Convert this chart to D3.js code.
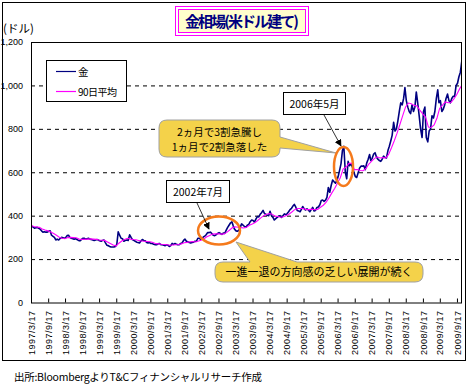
<!doctype html>
<html lang="ja">
<head>
<meta charset="utf-8">
<title>金相場(米ドル建て)</title>
<script src="https://d3js.org/d3.v7.min.js"></script>
<style>
    body { margin: 0; background: #fff; }
    svg text { font-family: "Noto Sans CJK JP", sans-serif; }
    .num { font-family: "Liberation Sans", Arial, sans-serif; font-size: 9px; }
</style>
</head>
<body>
<div id="chart"></div>
<script>

//---- data ----
//gold price (USD/oz), two readings per month from 1997/3 (early, late)
var goldStart = [1997, 2];
var goldPrices = [
    356, 352, 348, 342, 344, 346, 342, 338, 330, 324, 326, 324, 324, 328, 330, 310, 305, 300, 288, 292,
    288, 295, 300, 298, 296, 298, 308, 310, 300, 296, 294, 292, 294, 290, 286, 284, 290, 296, 296, 292, 294, 296, 292, 290,
    288, 286, 288, 290, 288, 284, 282, 286, 288, 276, 264, 262, 258, 256, 256, 256, 258, 268, 326, 310, 296, 294, 282, 286,
    288, 286, 312, 300, 290, 286, 282, 278, 276, 274, 284, 290, 286, 284, 276, 274, 276, 272, 272, 268, 266, 266, 270, 272,
    266, 266, 264, 262, 266, 264, 258, 262, 272, 268, 272, 268, 266, 266, 272, 274, 286, 292, 282, 280, 276, 274, 276, 278,
    282, 282, 296, 296, 292, 294, 302, 306, 312, 322, 322, 324, 318, 310, 308, 312, 318, 322, 318, 314, 320, 318, 332, 345,
    356, 366, 372, 352, 338, 330, 328, 332, 346, 362, 356, 350, 346, 356, 360, 372, 380, 378, 370, 384, 396, 394, 406, 414,
    424, 410, 406, 402, 400, 420, 400, 392, 380, 386, 392, 398, 400, 392, 400, 408, 404, 410, 418, 428, 434, 444, 452, 440,
    424, 422, 418, 430, 442, 432, 426, 432, 426, 418, 428, 438, 422, 424, 438, 440, 450, 470, 472, 466, 472, 484, 530, 508,
    540, 564, 556, 550, 560, 580, 610, 640, 700, 720, 600, 570, 650, 630, 638, 624, 600, 580, 576, 596, 620, 628, 628, 630,
    612, 642, 660, 682, 654, 664, 684, 690, 670, 660, 654, 650, 660, 674, 668, 666, 700, 720, 744, 770, 830, 790, 800, 836,
    880, 920, 910, 940, 990, 930, 900, 880, 870, 910, 880, 900, 970, 920, 860, 800, 760, 880, 900, 760, 740, 790, 800, 860,
    850, 880, 940, 980, 920, 930, 880, 890, 910, 940, 960, 930, 920, 940, 950, 950, 1000, 1010, 1040, 1060, 1112
];

//90 day average, one reading per month from 1997/3
var maPrices = [
    356, 350, 348, 346, 339, 334, 330, 325, 318, 310,
    301, 296, 294, 299, 300, 299, 298, 292, 291, 291, 292, 293,
    292, 291, 288, 287, 286, 279, 272, 265, 260, 273, 283, 290,
    296, 292, 290, 289, 286, 283, 282, 281, 280, 276, 271, 270,
    268, 267, 266, 264, 265, 266, 267, 270, 275, 277, 280, 281,
    279, 283, 287, 294, 303, 309, 315, 316, 317, 315, 316, 323,
    334, 345, 349, 347, 345, 343, 347, 356, 362, 368, 379, 390,
    400, 407, 410, 407, 398, 396, 393, 395, 401, 408, 418, 429,
    433, 433, 433, 428, 428, 430, 427, 429, 439, 448, 462, 482,
    505, 526, 549, 575, 615, 623, 640, 642, 612, 612, 608, 607,
    617, 638, 650, 663, 671, 666, 668, 665, 682, 712, 745, 780,
    821, 863, 901, 919, 916, 908, 905, 886, 869, 854, 808, 806,
    818, 850, 894, 909, 924, 920, 921, 938, 958, 984, 1005
];

var tickLabels = [
    "1997/3/17", "1997/9/17", "1998/3/17", "1998/9/17", "1999/3/17", "1999/9/17",
    "2000/3/17", "2000/9/17", "2001/3/17", "2001/9/17", "2002/3/17", "2002/9/17",
    "2003/3/17", "2003/9/17", "2004/3/17", "2004/9/17", "2005/3/17", "2005/9/17",
    "2006/3/17", "2006/9/17", "2007/3/17", "2007/9/17", "2008/3/17", "2008/9/17",
    "2009/3/17", "2009/9/17"
];
var yTicks = [0, 200, 400, 600, 800, 1000, 1200];
var gridValues = [200, 400, 600, 800, 1000];

//---- layout ----
var width = 471;
var height = 385;
var plot = {left: 31, top: 42, right: 462, bottom: 302.5};

var svg = d3.select("#chart").append("svg")
    .attr("width", width)
    .attr("height", height);

//outer frame
svg.append("rect")
    .attr("x", 2.5).attr("y", 2.5)
    .attr("width", 463).attr("height", 358)
    .attr("fill", "#fff")
    .attr("stroke", "#000");

var parseDate = d3.timeParse("%Y/%m/%d");

var x = d3.scaleTime()
    .domain([new Date(1997, 2, 17), new Date(2009, 10, 10)])
    .range([plot.left, plot.right]);

var y = d3.scaleLinear()
    .domain([0, 1200])
    .range([plot.bottom, plot.top]);

//dashed gridlines
svg.append("g")
    .attr("transform", "translate(" + plot.left + ",0)")
    .call(d3.axisLeft(y).tickValues(gridValues).tickSize(-(plot.right - plot.left)).tickFormat(""))
    .call(function(g) { g.select(".domain").remove(); })
    .selectAll("line")
    .attr("stroke", "#000")
    .attr("stroke-dasharray", "4,4");

//y labels
svg.append("g")
    .attr("transform", "translate(" + plot.left + ",0)")
    .call(d3.axisLeft(y).tickValues(yTicks).tickSize(0).tickPadding(8))
    .call(function(g) { g.select(".domain").remove(); })
    .selectAll("text")
    .attr("class", "num")
    .attr("font-size", null)
    .attr("font-family", null)
    .attr("fill", "#000");

svg.append("text")
    .attr("x", 3).attr("y", 33)
    .attr("font-size", "11.5px")
    .text("(ドル)");

//clip lines to plot area
svg.append("clipPath").attr("id", "plotClip")
    .append("rect")
    .attr("x", plot.left).attr("y", plot.top)
    .attr("width", plot.right - plot.left).attr("height", plot.bottom - plot.top);

function goldDate(i) {
    return new Date(goldStart[0], goldStart[1] + Math.floor(i / 2), i % 2 ? 23 : 8);
}
function maDate(i) {
    return new Date(goldStart[0], goldStart[1] + i, 15);
}

var goldLine = d3.line()
    .x(function(d, i) { return x(goldDate(i)); })
    .y(function(d) { return y(d); });

var maLine = d3.line()
    .x(function(d, i) { return x(maDate(i)); })
    .y(function(d) { return y(d); });

var lines = svg.append("g").attr("clip-path", "url(#plotClip)");

lines.append("path")
    .datum(goldPrices)
    .attr("d", goldLine)
    .attr("fill", "none")
    .attr("stroke", "#000080")
    .attr("stroke-width", 1.6)
    .attr("stroke-linejoin", "round");

lines.append("path")
    .datum(maPrices)
    .attr("d", maLine)
    .attr("fill", "none")
    .attr("stroke", "#ff00ff")
    .attr("stroke-width", 1.1);

//plot border
svg.append("rect")
    .attr("x", plot.left + 0.5).attr("y", plot.top + 0.5)
    .attr("width", plot.right - plot.left - 1).attr("height", plot.bottom - plot.top)
    .attr("fill", "none")
    .attr("stroke", "#000");

//x axis, ticks point inside
var xAxis = svg.append("g")
    .attr("transform", "translate(0," + plot.bottom + ")")
    .call(d3.axisBottom(x)
        .tickValues(tickLabels.map(parseDate))
        .tickSize(-4)
        .tickFormat(function(d, i) { return tickLabels[i]; }));

xAxis.select(".domain").remove();
xAxis.selectAll("line").attr("stroke", "#000");
xAxis.selectAll("text")
    .attr("class", "num")
    .attr("font-size", null)
    .attr("font-family", null)
    .attr("fill", "#000")
    .attr("letter-spacing", "0.5px")
    .attr("transform", "rotate(-90)")
    .attr("text-anchor", "end")
    .attr("x", -8)
    .attr("y", 0)
    .attr("dy", "0.35em");

//---- annotations ----
var calloutFill = "#f4d24a";
var calloutStroke = "#a0a0a0";

//callout: rapid rise and fall in 2006
svg.append("path")
    .attr("d", "M167,120 H272 Q280,120 280,128 V137 L336,153 L280,148 V149 Q280,157 272,157 H167 Q159,157 159,149 V128 Q159,120 167,120 Z")
    .attr("fill", calloutFill)
    .attr("stroke", calloutStroke);

var callout1 = svg.append("text")
    .attr("text-anchor", "middle")
    .attr("font-size", "10.5px");
callout1.append("tspan").attr("x", 219.5).attr("y", 135.5).text("2ヵ月で3割急騰し");
callout1.append("tspan").attr("x", 219.5).attr("y", 151).text("1ヵ月で2割急落した");

//callout: sideways period from 2002
svg.append("path")
    .attr("d", "M223,262 H250 L236,242 L297,262 H415 Q423,262 423,270 V274 Q423,282 415,282 H223 Q215,282 215,274 V270 Q215,262 223,262 Z")
    .attr("fill", calloutFill)
    .attr("stroke", calloutStroke);

svg.append("text")
    .attr("x", 319).attr("y", 275.5)
    .attr("text-anchor", "middle")
    .attr("font-size", "11px")
    .text("一進一退の方向感の乏しい展開が続く");

//orange rings
svg.append("ellipse")
    .attr("cx", 343.5).attr("cy", 166.5).attr("rx", 9.5).attr("ry", 19.5)
    .attr("fill", "none").attr("stroke", "#f57a1c").attr("stroke-width", 2.5);

svg.append("ellipse")
    .attr("cx", 219).attr("cy", 230.5).attr("rx", 21).attr("ry", 14)
    .attr("fill", "none").attr("stroke", "#f57a1c").attr("stroke-width", 2.5);

//arrow head
svg.append("defs").append("marker")
    .attr("id", "arrow")
    .attr("viewBox", "0 0 10 10")
    .attr("refX", 9).attr("refY", 5)
    .attr("markerWidth", 7).attr("markerHeight", 7)
    .attr("markerUnits", "userSpaceOnUse")
    .attr("orient", "auto")
    .append("path")
    .attr("d", "M0,0 L10,5 L0,10 Z")
    .attr("fill", "#000");

svg.append("line")
    .attr("x1", 324).attr("y1", 115).attr("x2", 341).attr("y2", 146)
    .attr("stroke", "#000").attr("stroke-width", 0.8)
    .attr("marker-end", "url(#arrow)");

svg.append("line")
    .attr("x1", 197).attr("y1", 203).attr("x2", 209).attr("y2", 229)
    .attr("stroke", "#000").attr("stroke-width", 0.8)
    .attr("marker-end", "url(#arrow)");

//date boxes
svg.append("rect")
    .attr("x", 283.5).attr("y", 92.5).attr("width", 62).attr("height", 22)
    .attr("fill", "#fff").attr("stroke", "#000");
svg.append("text")
    .attr("x", 314.5).attr("y", 107.5)
    .attr("text-anchor", "middle")
    .attr("font-size", "10.5px")
    .text("2006年5月");

svg.append("rect")
    .attr("x", 166.5).attr("y", 180.5).attr("width", 63).attr("height", 22)
    .attr("fill", "#fff").attr("stroke", "#000");
svg.append("text")
    .attr("x", 198).attr("y", 195.5)
    .attr("text-anchor", "middle")
    .attr("font-size", "10.5px")
    .text("2002年7月");

//---- legend ----
var legend = svg.append("g");
legend.append("rect")
    .attr("x", 46.5).attr("y", 60.5).attr("width", 80).attr("height", 41)
    .attr("fill", "#fff").attr("stroke", "#000");
legend.append("line")
    .attr("x1", 56).attr("x2", 76).attr("y1", 71.5).attr("y2", 71.5)
    .attr("stroke", "#000080").attr("stroke-width", 1.2);
legend.append("text")
    .attr("x", 78).attr("y", 75.5)
    .attr("font-size", "10.5px")
    .text("金");
legend.append("line")
    .attr("x1", 56).attr("x2", 76).attr("y1", 91.5).attr("y2", 91.5)
    .attr("stroke", "#ff00ff").attr("stroke-width", 1.2);
legend.append("text")
    .attr("x", 78).attr("y", 95.5)
    .attr("font-size", "10px")
    .attr("textLength", 39)
    .text("90日平均");

//---- title ----
svg.append("rect")
    .attr("x", 175.5).attr("y", 6.5).attr("width", 133).attr("height", 29)
    .attr("fill", "#fff").attr("stroke", "#ff00ff");
svg.append("rect")
    .attr("x", 178.5).attr("y", 9.5).attr("width", 127).attr("height", 23)
    .attr("fill", "#ffffcc").attr("stroke", "#ff00ff");
svg.append("text")
    .attr("x", 242).attr("y", 26.5)
    .attr("text-anchor", "middle")
    .attr("font-size", "15px")
    .attr("font-weight", "bold")
    .attr("fill", "#000080")
    .attr("textLength", 114)
    .text("金相場(米ドル建て)");

//source note
svg.append("text")
    .attr("x", 14).attr("y", 381)
    .attr("font-size", "10.5px")
    .attr("textLength", 248)
    .text("出所:BloombergよりT&Cフィナンシャルリサーチ作成");

</script>
</body>
</html>
